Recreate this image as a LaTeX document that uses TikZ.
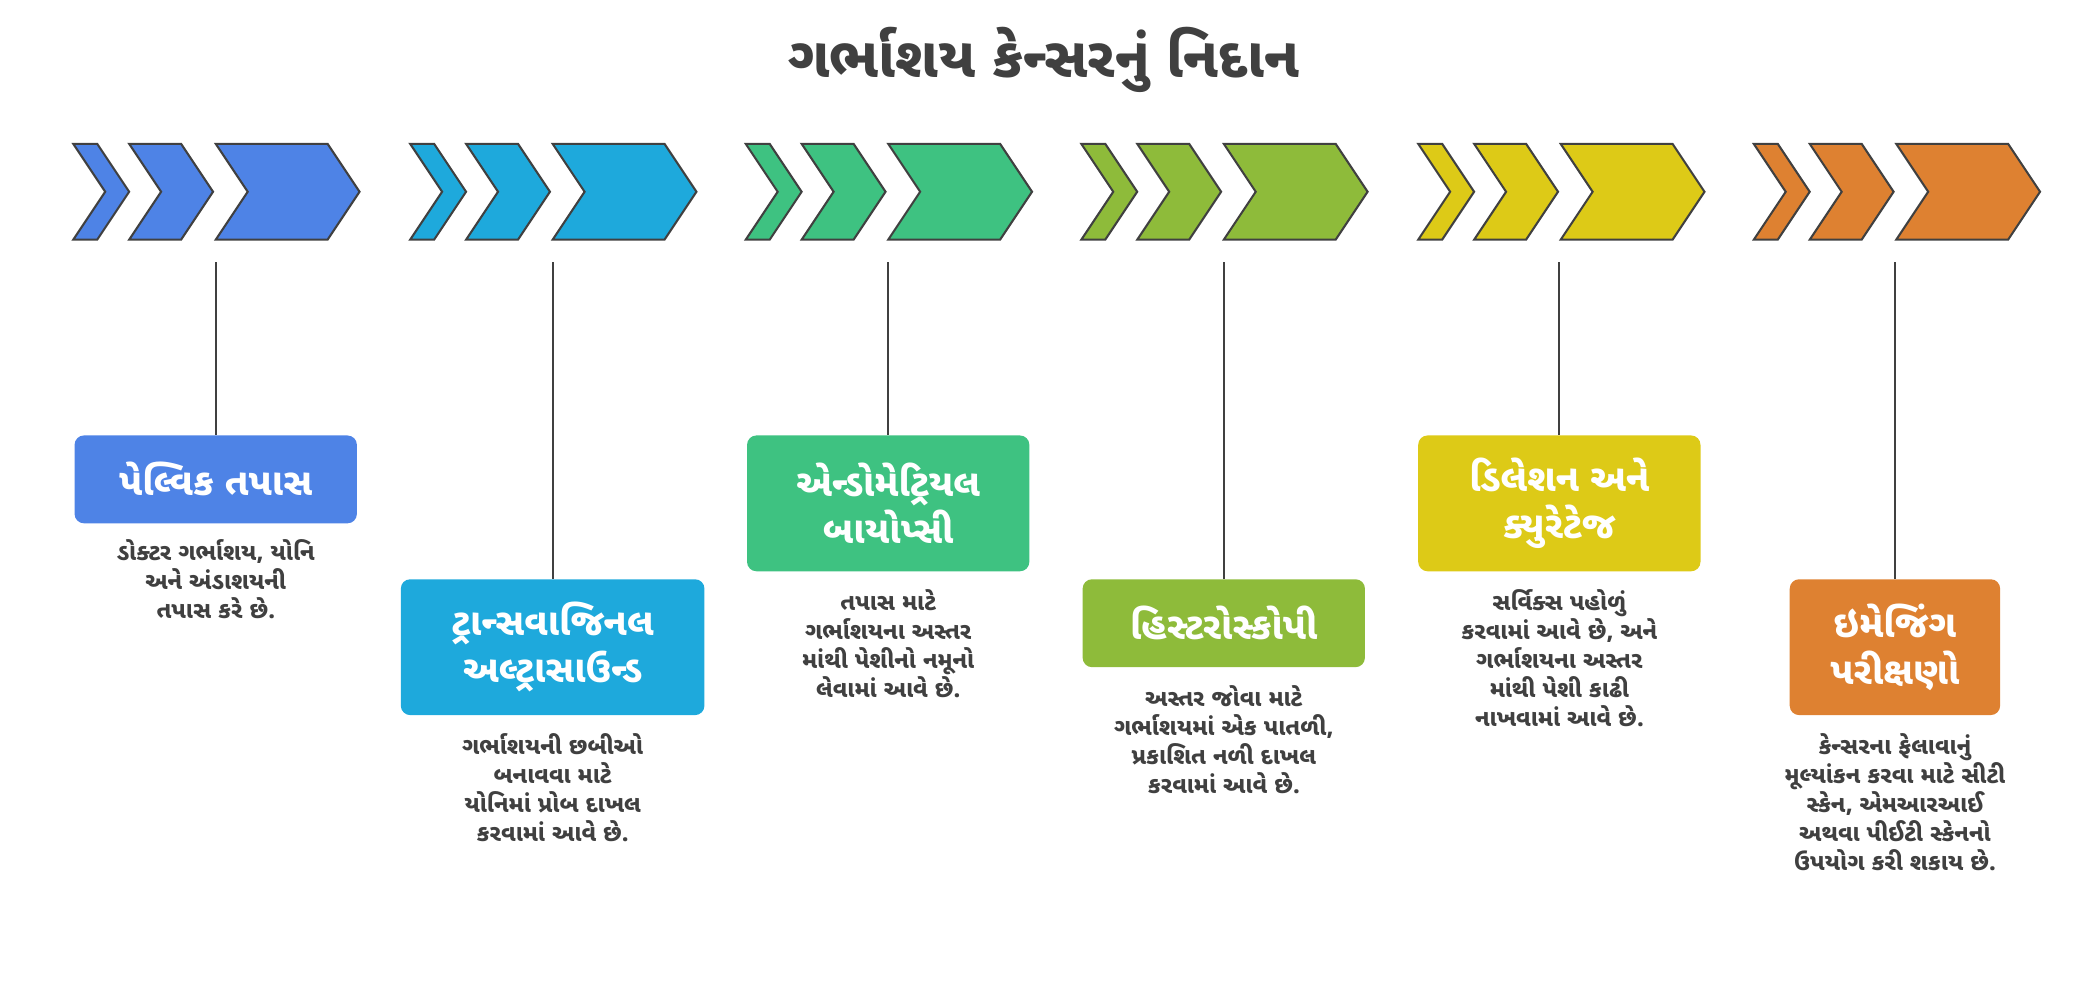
\documentclass[tikz,border=0pt]{standalone}
\usepackage{fontspec}
\newfontfamily\guj[Script=Gujarati]{Noto Sans Gujarati UI}
\usetikzlibrary{positioning}
\definecolor{stepblue}{HTML}{4E83E6}
\definecolor{stepcyan}{HTML}{1EA9DC}
\definecolor{stepgreen}{HTML}{3EC281}
\definecolor{stepolive}{HTML}{8EBB3A}
\definecolor{stepyellow}{HTML}{DDCA17}
\definecolor{steporange}{HTML}{DE8131}
\definecolor{edgegray}{HTML}{404040}
\newcommand{\chev}[3]{% x0, x1, colour
  \draw[chevron, fill=#3] (#1,108) -- (#2-24,108) -- (#2,144) -- (#2-24,180) -- (#1,180) -- (#1+24,144) -- cycle;}
\begin{document}
\begin{tikzpicture}[x=0.05cm, y=-0.05cm,
  chevron/.style={draw=edgegray, line width=2.2pt, line join=miter},
  stage/.style={rectangle, rounded corners=10pt, text=white, align=center, font=\guj\fontsize{40}{50}\selectfont\bfseries, inner sep=8pt},
  desc/.style={align=center, text=edgegray, font=\guj\fontsize{25}{31}\selectfont\bfseries, anchor=north},
  link/.style={draw=edgegray, line width=2.2pt}
]
  \useasboundingbox (0,0) rectangle (1568,739);
  \node[font=\guj\fontsize{60}{70}\selectfont\bfseries, text=edgegray] (title) at (784,45) {ગર્ભાશય કેન્સરનું નિદાન};

  % Chevrons
  \foreach \x/\c in {55/stepblue, 308/stepcyan, 560/stepgreen, 812/stepolive, 1065/stepyellow, 1317/steporange} {
    \chev{\x}{\x+42}{\c}
    \chev{\x+42}{\x+105}{\c}
    \chev{\x+107}{\x+215}{\c}
  }

  % Stage boxes
  \node[stage, fill=stepblue, minimum width=10.6cm, minimum height=3.3cm] (pelvic) at (162,360) {પેલ્વિક તપાસ};
  \node[stage, fill=stepcyan, minimum width=11.4cm, minimum height=5.1cm] (ultra) at (415,486) {ટ્રાન્સવાજિનલ\\અલ્ટ્રાસાઉન્ડ};
  \node[stage, fill=stepgreen, minimum width=10.6cm, minimum height=5.1cm] (biopsy) at (667,378) {એન્ડોમેટ્રિયલ\\બાયોપ્સી};
  \node[stage, fill=stepolive, minimum width=10.6cm, minimum height=3.3cm] (hystero) at (919,468) {હિસ્ટરોસ્કોપી};
  \node[stage, fill=stepyellow, minimum width=10.6cm, minimum height=5.1cm] (dnc) at (1171,378) {ડિલેશન અને\\ક્યુરેટેજ};
  \node[stage, fill=steporange, minimum width=7.9cm, minimum height=5.1cm] (imaging) at (1423,486) {ઇમેજિંગ\\પરીક્ષણો};

  % Descriptions
  \node[desc] (d1) at (162,403) {ડોક્ટર ગર્ભાશય, યોનિ\\અને અંડાશયની\\તપાસ કરે છે.};
  \node[desc] (d2) at (415,548) {ગર્ભાશયની છબીઓ\\બનાવવા માટે\\યોનિમાં પ્રોબ દાખલ\\કરવામાં આવે છે.};
  \node[desc] (d3) at (667,440) {તપાસ માટે\\ગર્ભાશયના અસ્તર\\માંથી પેશીનો નમૂનો\\લેવામાં આવે છે.};
  \node[desc] (d4) at (919,512) {અસ્તર જોવા માટે\\ગર્ભાશયમાં એક પાતળી,\\પ્રકાશિત નળી દાખલ\\કરવામાં આવે છે.};
  \node[desc] (d5) at (1171,440) {સર્વિક્સ પહોળું\\કરવામાં આવે છે, અને\\ગર્ભાશયના અસ્તર\\માંથી પેશી કાઢી\\નાખવામાં આવે છે.};
  \node[desc] (d6) at (1423,548) {કેન્સરના ફેલાવાનું\\મૂલ્યાંકન કરવા માટે સીટી\\સ્કેન, એમઆરઆઈ\\અથવા પીઈટી સ્કેનનો\\ઉપયોગ કરી શકાય છે.};

  % Links
  \foreach \n/\x in {pelvic/162, ultra/415, biopsy/667, hystero/919, dnc/1171, imaging/1423} {
    \coordinate (top-\n) at (\x,197);
    \draw[link] (top-\n) -- (\n.north);
  }
\end{tikzpicture}
\end{document}
